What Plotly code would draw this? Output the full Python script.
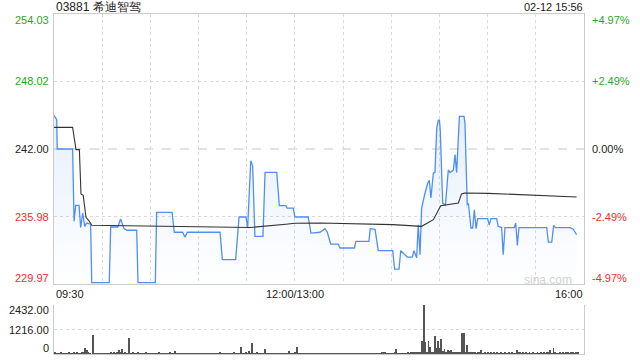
import plotly.graph_objects as go

# ---------------- data ----------------
title_text = "03881 希迪智驾"
stamp_text = "02-12 15:56"
prev_close = 242.00
price_ticks = [254.03, 248.02, 242.00, 235.98, 229.97]
pct_ticks = ["+4.97%", "+2.49%", "0.00%", "-2.49%", "-4.97%"]
vol_ticks = [2432, 1216, 0]
vol_tick_text = ["2432.00", "1216.00", "0"]
time_labels = ["09:30", "12:00/13:00", "16:00"]
time_label_pos = [0, 150, 330]

# minutes since 09:30 (lunch break collapsed) and price
price_min = [0, 1.7, 2, 11.6, 12.5, 13.5, 15.6, 16.6, 17.9, 19.1, 20.4, 22.8, 23.5, 34.4, 35.3,
             39.7, 41.5, 43.6, 45.3, 51.5, 52.3, 63.1, 63.9, 73.5, 74.9, 80.1, 81.6, 83.0,
             103.4, 104.8, 113.1, 115.2, 119.5, 120.6, 122.5, 123.7, 125.1, 130.1, 131.4,
             138.7, 140.3, 144.4, 145.1, 149.0, 150.0, 158.3, 160.0, 165.6, 168.7, 170.2,
             172.3, 177.0, 178.1, 187.0, 188.0, 196.1, 196.9, 199.9, 201.9, 210.9, 212.1,
             214.8, 215.9, 220.0, 223.1, 224.1, 225.8, 226.8, 227.9, 228.9, 231.0, 232.7,
             233.7, 234.7, 236.2, 237.2, 238.3, 239.3, 240.0, 240.5, 242.0, 243.0, 243.7,
             245.5, 246.6, 248.6, 249.7, 250.7, 251.5, 252.4, 255.3, 255.9, 257.3, 258.1,
             259.6, 260.7, 261.7, 262.8, 263.8, 270.0, 271.0, 272.1, 275.6, 276.6, 278.7,
             279.7, 280.8, 286.6, 287.5, 288.5, 289.5, 306.8, 307.8, 309.9, 311.1, 312.3,
             321.3, 323.3, 325.4]
price_val = [245.00, 244.61, 242.00, 242.00, 235.56, 236.98, 236.98, 235.02, 236.30, 235.11,
             235.40, 235.30, 230.10, 230.10, 235.05, 235.05, 235.76, 234.90, 234.76, 234.76,
             230.10, 230.10, 236.36, 236.36, 234.58, 234.58, 234.13, 234.58, 234.58, 232.14,
             232.14, 235.94, 235.94, 235.02, 240.96, 240.50, 234.22, 234.22, 239.92, 239.92,
             236.95, 236.95, 236.74, 236.74, 235.94, 235.94, 234.51, 234.58, 234.90, 234.58,
             233.53, 233.53, 233.18, 233.18, 233.77, 233.77, 234.90, 234.85, 232.94, 232.94,
             231.30, 231.30, 232.94, 232.37, 232.37, 232.94, 232.30, 235.25, 232.58, 236.74,
             238.08, 238.97, 239.20, 237.63, 239.86, 239.90, 243.87, 244.58, 244.58, 243.70,
             237.16, 237.04, 237.00, 240.13, 239.90, 240.10, 241.50, 239.90, 242.00, 244.90,
             244.90, 244.30, 237.04, 237.10, 234.96, 234.96, 236.59, 234.90, 235.79, 235.79,
             235.25, 235.79, 235.79, 235.11, 235.00, 232.58, 235.00, 235.00, 235.41, 233.41,
             235.00, 235.00, 233.71, 233.71, 235.20, 235.00, 235.00, 234.85, 234.36]

avg_min = [0, 11.6, 13.7, 15.8, 16.8, 18.2, 19.9, 22.0, 23.5, 103.4, 122.0, 144.4, 150.0,
           165.6, 211.0, 228.9, 236.2, 240.8, 251.8, 253.7, 255.7, 270.3, 301.6, 325.4]
avg_val = [243.93, 243.93, 241.94, 241.94, 237.99, 237.87, 235.91, 235.56, 235.20, 235.02,
           235.00, 235.30, 235.38, 235.40, 235.26, 235.11, 235.70, 236.95, 237.19, 238.00,
           238.08, 238.05, 237.90, 237.72]

# per-minute volume: small background trades ...
small_vol = [
    80, 30, 40, 20, 50, 30, 20, 40, 30, 60, 20, 40, 50, 30, 70, 40, 30, 60, 90, 0, 0, 70, 40, 0, 50, 30, 20, 40, 30, 20,
    30, 20, 40, 30, 20, 50, 30, 60, 40, 70, 0, 60, 0, 40, 50, 30, 0, 40, 30, 60, 20, 30, 0, 40, 30, 20, 30, 50, 20, 40,
    30, 20, 40, 20, 30, 50, 20, 30, 40, 20, 30, 20, 60, 40, 30, 0, 30, 20, 40, 30, 20, 30, 40, 20, 30, 20, 40, 30, 20, 30,
    20, 30, 40, 20, 30, 20, 40, 30, 20, 30, 40, 20, 30, 60, 40, 30, 20, 30, 40, 20, 30, 40, 60, 40, 30, 20, 0, 40, 30, 50,
    40, 0, 30, 0, 40, 30, 60, 40, 30, 20, 40, 0, 30, 20, 40, 30, 20, 40, 30, 20, 30, 40, 20, 30, 40, 30, 0, 40, 30, 20,
    60, 0, 40, 30, 20, 30, 40, 20, 30, 40, 20, 30, 40, 20, 30, 40, 20, 30, 20, 30, 40, 20, 30, 40, 20, 30, 40, 30, 20, 30,
    40, 20, 30, 40, 20, 30, 40, 30, 20, 30, 40, 20, 30, 40, 20, 30, 20, 40, 30, 20, 30, 40, 20, 30, 50, 60, 80, 40, 30, 20,
    40, 30, 60, 0, 40, 30, 20, 30, 40, 30, 50, 40, 60, 80, 120, 100, 90, 60, 90, 0, 0, 0, 110, 0, 0, 80, 0, 0, 0, 0,
    0, 0, 130, 0, 100, 0, 0, 0, 110, 70, 90, 60, 80, 100, 0, 0, 80, 0, 60, 90, 0, 70, 60, 40, 50, 80, 0, 40, 60, 30,
    50, 40, 80, 40, 60, 30, 50, 40, 70, 30, 40, 60, 30, 50, 40, 60, 30, 40, 0, 0, 60, 40, 70, 30, 50, 40, 60, 30, 50, 40,
    30, 60, 40, 50, 30, 70, 40, 60, 50, 0, 40, 0, 50, 30, 40, 60, 30, 50, 40, 60, 70, 40, 50, 60, 40, 80, 0,
]
# ... and the visible spikes
spike_min = [19, 20, 24, 40, 42, 46, 52, 75, 116, 121, 123, 131, 146, 151, 213,
             229, 230, 231, 233, 234, 236, 237, 238, 239, 240, 241, 243, 245, 246, 247,
             254, 255, 257, 260, 266, 288, 289, 309, 311, 326]
spike_vol = [280, 180, 940, 220, 250, 780, 115, 165, 330, 165, 560, 250, 150, 330, 230,
             650, 2432, 620, 650, 360, 115, 900, 280, 650, 310, 740, 230, 180, 160, 180,
             1050, 1050, 440, 115, 180, 180, 110, 180, 280, 110]

volume = list(small_vol)
for m, v in zip(spike_min, spike_vol):
    if m < len(volume):
        volume[m] = v
vol_min = list(range(len(volume)))

# ---------------- styling ----------------
W, H = 640, 360
BLUE = "#4f8ff2"
GREEN = "#1fa81f"
RED = "#f02c2c"
DARK = "#222222"
GRID = "#dadada"
FONT = "Liberation Sans, Arial, sans-serif"

x_left, x_right = 54 / W, 584 / W
p_top, p_bot = 1 - 14 / H, 1 - 284 / H
v_top, v_bot = 1 - 305 / H, 1 - 354 / H

fig = go.Figure()

fig.add_trace(go.Scatter(
    x=price_min, y=price_val, mode="lines",
    line=dict(color=BLUE, width=1.3),
    fill="tozeroy",
    fillgradient=dict(type="vertical", start=229.97, stop=245.0,
                      colorscale=[[0, "rgba(79,143,242,0.0)"], [1, "rgba(79,143,242,0.14)"]]),
    xaxis="x", yaxis="y", hoverinfo="skip"))
fig.add_trace(go.Scatter(
    x=avg_min, y=avg_val, mode="lines",
    line=dict(color="#333333", width=1.1),
    xaxis="x", yaxis="y", hoverinfo="skip"))
fig.add_trace(go.Bar(
    x=vol_min, y=volume, width=0.55, marker=dict(color="#555555", line=dict(width=0)),
    xaxis="x2", yaxis="y2", hoverinfo="skip"))

fig.update_layout(
    width=W, height=H, margin=dict(l=0, r=0, t=0, b=0),
    paper_bgcolor="white", plot_bgcolor="white", showlegend=False,
    font=dict(family=FONT, size=11, color=DARK),
    bargap=0,
    xaxis=dict(domain=[x_left, x_right], range=[0, 330], anchor="y",
               tickvals=list(range(0, 331, 30)), showticklabels=False, ticks="",
               showgrid=True, gridcolor=GRID, griddash="dot", gridwidth=1,
               showline=True, linecolor="#cccccc", linewidth=1, mirror=True, zeroline=False),
    yaxis=dict(domain=[p_bot, p_top], range=[229.97, 254.03], anchor="x",
               tickvals=[248.02, 235.98], showticklabels=False, ticks="",
               showgrid=True, gridcolor=GRID, griddash="dot", gridwidth=1,
               showline=True, linecolor="#cccccc", linewidth=1, mirror=True, zeroline=False),
    xaxis2=dict(domain=[x_left, x_right], range=[-0.5, 330], anchor="y2",
                showticklabels=False, ticks="", showgrid=False,
                showline=True, linecolor="#cccccc", linewidth=1, mirror=False, zeroline=False),
    yaxis2=dict(domain=[v_bot, v_top], range=[0, 2432], anchor="x2",
                tickvals=[1216, 2432], showticklabels=False, ticks="",
                showgrid=True, gridcolor=GRID, griddash="dot", gridwidth=1,
                showline=True, linecolor="#cccccc", linewidth=1, mirror=True, zeroline=False),
)

# previous-close dashed line
fig.add_shape(type="line", xref="x", yref="y", x0=0, x1=330, y0=prev_close, y1=prev_close,
              line=dict(color="#c4c4c4", width=1, dash="dash"), layer="below")

ann = []
# title + timestamp
ann.append(dict(text=title_text, xref="paper", yref="paper", x=54 / W, y=1 - 7 / H,
                xanchor="left", yanchor="middle", showarrow=False,
                font=dict(size=12, color=DARK, family=FONT)))
ann.append(dict(text=stamp_text, xref="paper", yref="paper", x=584.5 / W, y=1 - 7 / H,
                xanchor="right", yanchor="middle", showarrow=False,
                font=dict(size=11, color=DARK, family=FONT)))

# price / percent labels
colors = [GREEN, GREEN, DARK, RED, RED]
shifts = [-6, 0, 0, 0, 6]
for p, pt, c, s in zip(price_ticks, pct_ticks, colors, shifts):
    ann.append(dict(text=f"{p:.2f}", xref="paper", yref="y", x=51 / W, y=p, yshift=s,
                    xanchor="right", yanchor="middle", showarrow=False,
                    font=dict(size=11, color=c, family=FONT)))
    ann.append(dict(text=pt, xref="paper", yref="y", x=590 / W, y=p, yshift=s,
                    xanchor="left", yanchor="middle", showarrow=False,
                    font=dict(size=11, color=c, family=FONT)))

# volume labels
vshifts = [-5, 0, 6]
for v, vt, s in zip(vol_ticks, vol_tick_text, vshifts):
    ann.append(dict(text=vt, xref="paper", yref="y2", x=51 / W, y=v, yshift=s,
                    xanchor="right", yanchor="middle", showarrow=False,
                    font=dict(size=11, color=DARK, family=FONT)))

# time labels
anchors = ["left", "center", "right"]
for t, pos, a in zip(time_labels, time_label_pos, anchors):
    ann.append(dict(text=t, xref="x", yref="paper", x=pos, y=1 - 293.5 / H,
                    xanchor=a, yanchor="middle", showarrow=False,
                    xshift=1 if a == "right" else 0,
                    font=dict(size=11, color=DARK, family=FONT)))

# watermark
ann.append(dict(text="sina.com", xref="paper", yref="paper", x=573.5 / W, y=1 - 279.5 / H,
                xanchor="right", yanchor="middle", showarrow=False,
                font=dict(size=12, color="#d2d2d2", family=FONT)))

fig.update_layout(annotations=ann)
fig.write_html("out.html", config={"displayModeBar": False})
